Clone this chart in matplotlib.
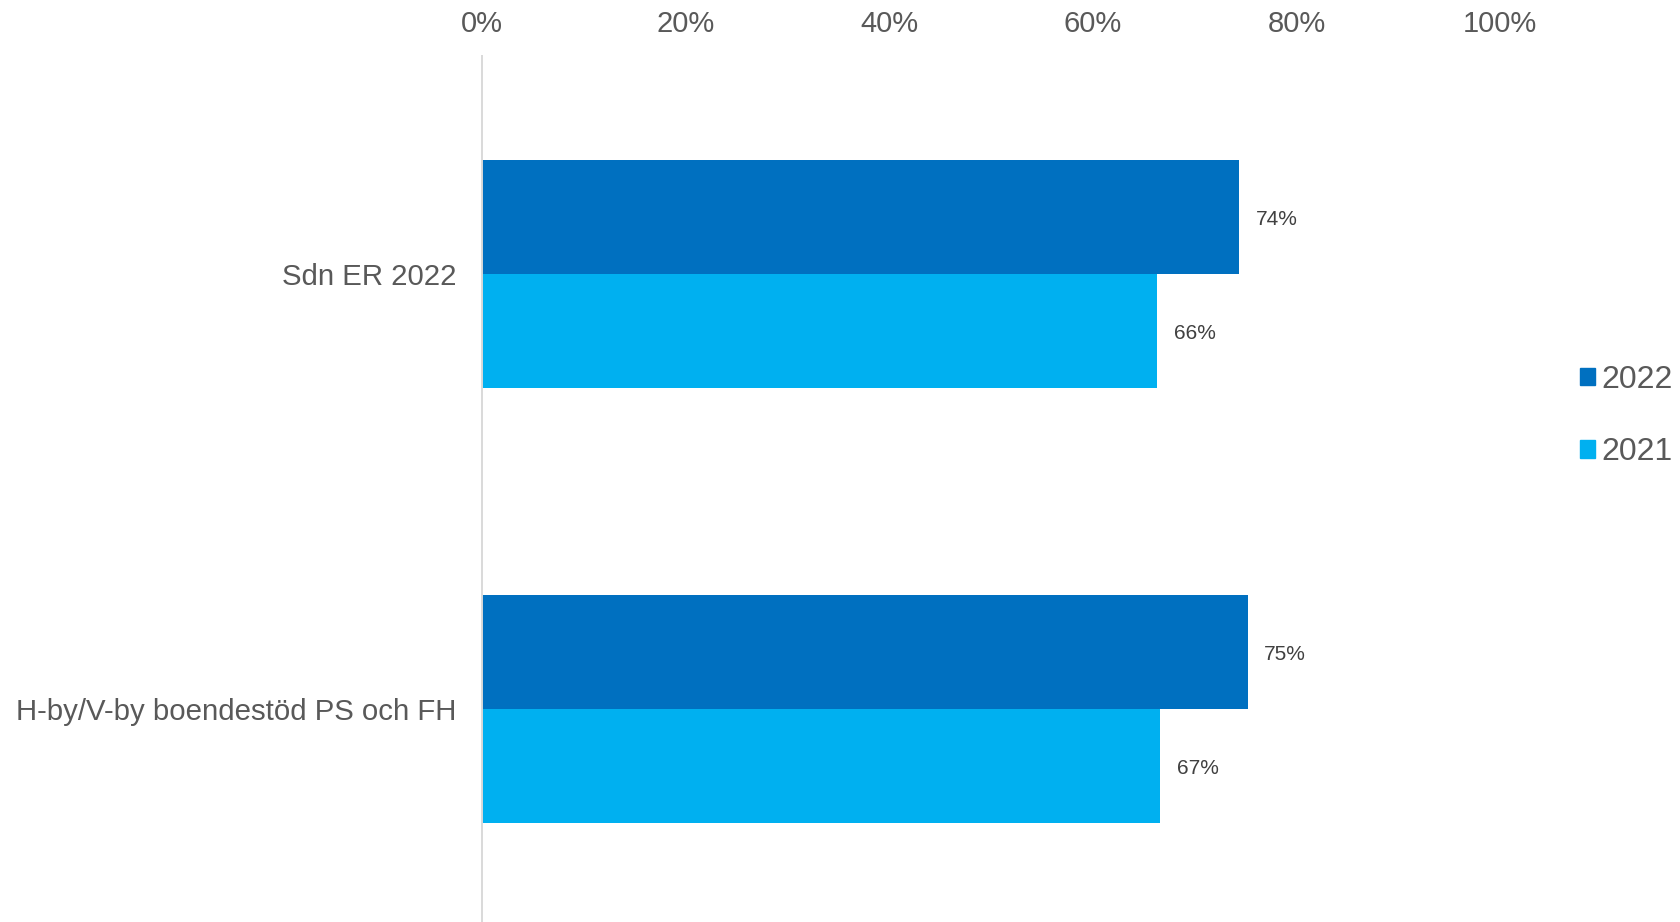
import matplotlib.pyplot as plt
from matplotlib.patches import Patch
import numpy as np

plt.rcParams['font.family'] = ['Liberation Sans', 'DejaVu Sans']

categories = ['Sdn ER 2022', 'H-by/V-by boendestöd PS och FH']
series_names = ['2022', '2021']
values_2022 = [0.744, 0.752]
values_2021 = [0.663, 0.666]
colors = ['#0070C0', '#00B0F0']
xticks = [0, 0.2, 0.4, 0.6, 0.8, 1.0]

fig = plt.figure(figsize=(16.8, 9.22), dpi=100)
ax = fig.add_axes([482/1680, -4.5/922, 1018/1680, 870/922])

y = np.arange(len(categories))
h = 0.262
b1 = ax.barh(y - h/2, values_2022, height=h, color=colors[0], label=series_names[0])
b2 = ax.barh(y + h/2, values_2021, height=h, color=colors[1], label=series_names[1])

# data labels just right of each bar
for bars, vals in [(b1, values_2022), (b2, values_2021)]:
    for bar, v in zip(bars, vals):
        ax.annotate(f'{round(v*100)}%', (v, bar.get_y() + bar.get_height()/2),
                    xytext=(12, -1.5), textcoords='offset points',
                    va='center', ha='left', fontsize=15, color='#404040')

ax.set_xlim(0, 1)
ax.set_ylim(len(categories) - 0.5, -0.5)
ax.set_xticks(xticks)
ax.set_xticklabels([f'{int(t*100)}%' for t in xticks])
ax.xaxis.tick_top()
ax.tick_params(axis='x', length=0, pad=13.5, labelsize=21, labelcolor='#595959')
ax.set_yticks(y)
ax.set_yticklabels(categories)
ax.tick_params(axis='y', length=0, pad=18.4, labelsize=21.2, labelcolor='#595959')

for s in ['top', 'right', 'bottom']:
    ax.spines[s].set_visible(False)
ax.spines['left'].set_color('#d9d9d9')
ax.spines['left'].set_linewidth(1.4)

handles = [Patch(color=c) for c in colors]
fig.legend(handles, series_names, loc='center left',
           bbox_to_anchor=(1580/1680, 1 - 416/922), frameon=False,
           fontsize=23, labelcolor='#595959', handlelength=0.47, handleheight=0.47,
           handletextpad=0.2, labelspacing=1.33, borderpad=0, borderaxespad=0)

fig.savefig('out.png', dpi=100)
